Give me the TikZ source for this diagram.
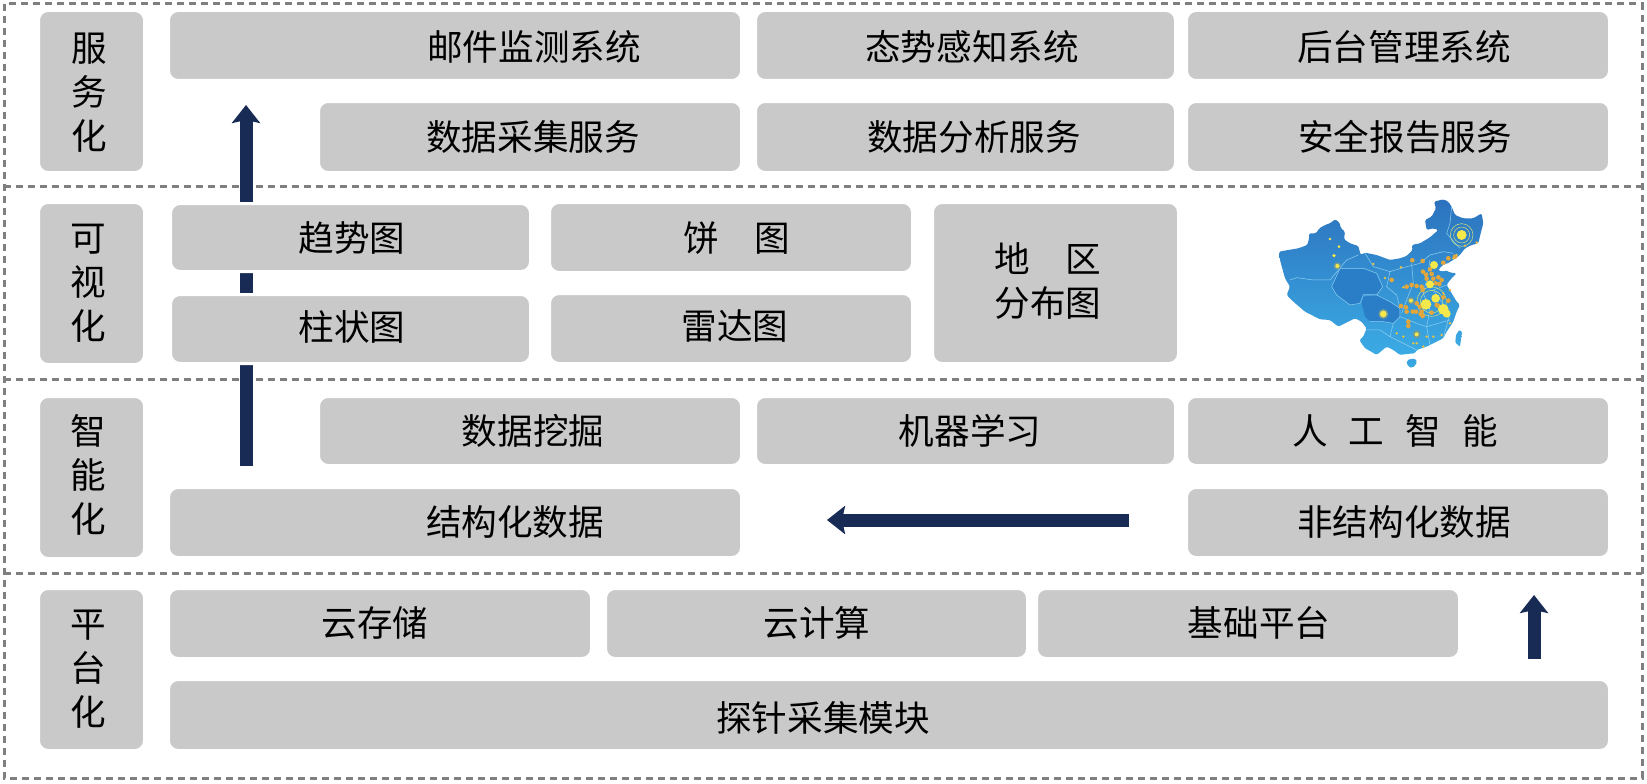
\documentclass[tikz,border=0pt]{standalone}
\usepackage{fontspec}
\setmainfont{Noto Sans CJK SC}
\usetikzlibrary{arrows.meta}
\definecolor{boxgray}{HTML}{C9C9C9}
\definecolor{dashgray}{HTML}{7F7F7F}
\definecolor{navy}{HTML}{172B55}
\definecolor{mapdark}{HTML}{2C72BE}
\definecolor{maplight}{HTML}{3BABE4}
\definecolor{mapmid}{HTML}{2A7EC8}
\definecolor{mapline}{HTML}{8FD0F0}
\definecolor{dotorange}{HTML}{E3A63A}
\definecolor{dotyellow}{HTML}{F5E84A}
\tikzset{
  boxnode/.style={rectangle,rounded corners=9.5pt,fill=boxgray,draw=white,line width=3pt,inner sep=0pt,outer sep=0pt},
  boxtext/.style={font=\fontsize{35.6}{44}\selectfont,align=center,inner sep=0pt,text=black},
  zone/.style={draw=dashgray,line width=3pt,dash pattern=on 7pt off 5pt},
  flow/.style={draw=navy,line width=13pt,-{Stealth[length=18pt,width=28pt,inset=3pt]}},
  prov/.style={draw=mapline,line width=0.5pt},
}
\newcommand{\tst}{\rule{0pt}{30pt}}
\newcommand{\tsd}{\rule[-5.6pt]{0pt}{5.6pt}}
\newcommand{\bx}[8][1]{%
  \pgfmathsetmacro{\bxw}{#5-#3+3}\pgfmathsetmacro{\bxh}{#6-#4+3}%
  \pgfmathsetmacro{\bxx}{(#3+#5)/2}\pgfmathsetmacro{\bxy}{(#4+#6)/2}%
  \pgfmathsetmacro{\bxt}{\bxy+#1}%
  \node[boxnode,minimum width=\bxw pt,minimum height=\bxh pt] (#2) at (\bxx,\bxy) {};
  \node[boxtext] (#2t) at (#7,\bxt) {\tst #8\tsd};
}
\newcommand{\yd}[3]{\fill[dotyellow] (#1,#2) circle (#3);}
\begin{document}
\begin{tikzpicture}[x=1pt,y=-1pt]
\useasboundingbox (0,0) rectangle (1647,784);
\fill[white] (0,0) rectangle (1647,784);
% dashed zones
\draw[zone] (4,4) rectangle (1642,778);
\draw[zone] (4,186) -- (1642,186);
\draw[zone] (4,379) -- (1642,379);
\draw[zone] (4,573) -- (1642,573);
% arrows under the boxes
\coordinate (upS) at (246,466);
\coordinate (upE) at (246,105);
\coordinate (leftS) at (1129,520);
\coordinate (leftE) at (827,520);
\coordinate (smallS) at (1534,659);
\coordinate (smallE) at (1534,595);
\draw[flow] (upS) -- (upE);
\draw[flow] (leftS) -- (leftE);
\draw[flow] (smallS) -- (smallE);
% side labels
\bx[2]{sA}{40}{12}{143}{171}{89}{服\\务\\化}
\bx[0]{sB}{40}{204}{143}{363}{88}{可\\视\\化}
\bx[-1]{sC}{40}{398}{143}{557}{88}{智\\能\\化}
\bx[0]{sD}{40}{590}{143}{749}{88}{平\\台\\化}
% service
\bx[3]{a1}{170}{12}{740}{79}{534}{邮件监测系统}
\bx[3]{a2}{757}{12}{1174}{79}{972}{态势感知系统}
\bx[3]{a3}{1188}{12}{1608}{79}{1404}{后台管理系统}
\bx{a4}{320}{103}{740}{171}{533}{数据采集服务}
\bx{a5}{757}{103}{1174}{171}{974}{数据分析服务}
\bx{a6}{1188}{103}{1608}{171}{1405}{安全报告服务}
% visual
\bx[2]{b1}{172}{205}{529}{270}{352}{趋势图}
\bx[2]{b2}{551}{204}{911}{271}{737}{饼\hspace{35pt}图}
\bx[-1]{b3}{172}{296}{529}{362}{352}{柱状图}
\bx[-1]{b4}{551}{295}{911}{362}{735}{雷达图}
\bx[-1]{b5}{934}{204}{1177}{362}{1048}{地\hspace{35pt}区\\分布图}
% intelligent
\bx{c1}{320}{398}{740}{464}{533}{数据挖掘}
\bx{c2}{757}{398}{1174}{464}{970}{机器学习}
\bx{c3}{1188}{398}{1608}{464}{1395}{人\hspace{21pt}工\hspace{21pt}智\hspace{21pt}能}
\bx{c4}{170}{489}{740}{556}{515}{结构化数据}
\bx{c5}{1188}{489}{1608}{556}{1404}{非结构化数据}
% platform
\bx{d1}{170}{590}{590}{657}{375}{云存储}
\bx{d2}{607}{590}{1026}{657}{817}{云计算}
\bx{d3}{1038}{590}{1458}{657}{1259}{基础平台}
\bx[4]{d4}{170}{681}{1608}{749}{823}{探针采集模块}
% map
\begin{scope}[shift={(1230,180)},x=0.3333pt,y=-0.3333pt]
\shade[top color=mapdark,bottom color=maplight,rounded corners=1.5pt] (147,215) -- (175,210) -- (205,205) -- (232,195) -- (238,172) -- (237,160) -- (258,160) -- (268,145) -- (285,135) -- (300,130) -- (315,118) -- (328,127) -- (333,145) -- (345,155) -- (342,178) -- (360,190) -- (385,198) -- (392,225) -- (405,218) -- (440,225) -- (480,240) -- (510,235) -- (530,228) -- (548,210) -- (545,195) -- (570,190) -- (600,172) -- (625,150) -- (610,145) -- (590,150) -- (585,120) -- (605,110) -- (618,85) -- (612,65) -- (640,58) -- (655,65) -- (665,80) -- (675,105) -- (700,115) -- (730,115) -- (755,100) -- (760,130) -- (752,160) -- (745,190) -- (725,195) -- (705,205) -- (690,225) -- (670,240) -- (655,248) -- (640,268) -- (662,278) -- (680,280) -- (660,300) -- (650,315) -- (665,340) -- (680,365) -- (690,375) -- (680,395) -- (670,425) -- (650,455) -- (640,475) -- (610,490) -- (590,500) -- (560,510) -- (555,520) -- (530,522) -- (510,525) -- (490,510) -- (470,500) -- (440,525) -- (415,510) -- (405,505) -- (388,480) -- (400,470) -- (410,445) -- (395,425) -- (375,415) -- (355,425) -- (325,440) -- (300,420) -- (270,418) -- (225,395) -- (190,365) -- (170,345) -- (180,320) -- (165,295) -- (150,240) -- cycle;
\shade[top color=maplight!85!mapdark,bottom color=maplight,rounded corners=2pt] (530,540) -- (555,535) -- (563,545) -- (548,565) -- (532,558) -- cycle;
\shade[top color=maplight!85!mapdark,bottom color=maplight,rounded corners=1pt] (688,450) -- (696,455) -- (690,500) -- (676,488) -- (678,465) -- cycle;
\fill[white,rounded corners=1.5pt] (625,272) -- (635,258) -- (655,248) -- (665,262) -- (645,274) -- cycle;
% darker provinces
\fill[mapmid,rounded corners=1pt] (305,320) -- (330,265) -- (400,265) -- (440,280) -- (458,320) -- (440,345) -- (400,345) -- (390,370) -- (360,375) -- (320,345) -- cycle;
\fill[mapmid,rounded corners=1pt] (400,350) -- (440,345) -- (480,365) -- (510,385) -- (510,410) -- (490,430) -- (460,425) -- (420,425) -- (405,410) -- (395,370) -- cycle;
% boundaries
\draw[prov] (180,300) -- (200,293) -- (250,300) -- (300,300) -- (325,270) -- (350,240) -- (385,225);
\draw[prov] (305,320) -- (330,265) -- (400,265) -- (440,280) -- (458,320) -- (440,345) -- (400,345) -- (390,370) -- (360,375) -- (320,345) -- cycle;
\draw[prov] (400,345) -- (440,345) -- (480,365) -- (510,385) -- (510,410) -- (490,430) -- (460,425) -- (420,425);
\draw[prov] (405,220) -- (430,260) -- (480,275) -- (530,260) -- (570,250) -- (600,225) -- (640,215) -- (670,220);
\draw[prov] (665,80) -- (660,130) -- (650,160) -- (690,205);
\draw[prov] (480,275) -- (470,320) -- (500,345) -- (510,385);
\draw[prov] (545,250) -- (550,310) -- (530,360) -- (515,400);
\draw[prov] (600,240) -- (590,300) -- (580,340) -- (600,390) -- (590,440) -- (600,495);
\draw[prov] (650,315) -- (610,330) -- (660,400) -- (640,475);
\draw[prov] (510,410) -- (560,430) -- (590,440) -- (660,420);
\draw[prov] (490,430) -- (480,470) -- (520,490) -- (560,510);
\draw[prov] (410,450) -- (450,450) -- (480,470);
% rings
\draw[dotyellow!70!mapline,line width=0.5pt] (695,165) circle (24) (695,165) circle (34);
\draw[dotyellow!70!mapline,line width=0.5pt] (605,365) circle (34) (605,365) circle (44);
% halos
\fill[dotyellow!35!mapdark] (460,402) circle (15) (322,258) circle (11) (560,463) circle (12) (543,362) circle (11);
% orange dots
\foreach \mx/\my in {547/241,578/243,579/275,600/268,588/284,605/282,590/296,610/296,625/292,635/300,617/310,628/312,560/318,575/320,578/330,485/300,530/320,545/315,528/382,513/378,560/370,570/380,548/395,558/395,572/402,578/408,575/395,605/398,620/375,640/352,655/362,625/378,655/235,675/230,640/248,535/425,535/438,530/395}
  {\fill[dotorange] (\mx,\my) circle (7);}
\foreach \mx/\my in {513/262,465/294,520/322,430/252,500/460,560/490,590/470,610/470,635/465,550/490,660/430,740/188,705/197,680/225,670/235,640/340,660/330,580/500,520/470}
  {\fill[dotorange!60!dotyellow] (\mx,\my) circle (4);}
% yellow dots
\yd{695}{165}{15}\yd{612}{255}{12}\yd{600}{313}{12}\yd{617}{355}{13}\yd{588}{373}{16}
\yd{640}{388}{16}\yd{650}{401}{12}\yd{460}{402}{10}\yd{322}{258}{6}\yd{560}{463}{6}\yd{543}{362}{6}
\yd{300}{177}{4}\yd{327}{200}{4.5}\yd{312}{227}{5.5}
\end{scope}
\end{tikzpicture}
\end{document}
